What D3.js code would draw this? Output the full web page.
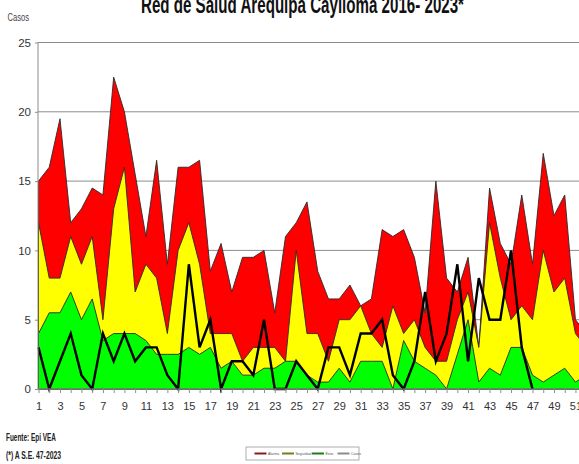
<!DOCTYPE html>
<html><head><meta charset="utf-8">
<script src="https://cdn.jsdelivr.net/npm/d3@7"></script>
<style>body{margin:0;background:#fff}svg{display:block}</style>
</head><body><svg id="c" width="579" height="464"></svg>
<script>
const weeks = [1,2,3,4,5,6,7,8,9,10,11,12,13,14,15,16,17,18,19,20,21,22,23,24,25,26,27,28,29,30,31,32,33,34,35,36,37,38,39,40,41,42,43,44,45,46,47,48,49,50,51,52];
// Upper band (red) – alarma
const alarma = [15,16,19.5,12,13,14.5,14,22.5,20,15.5,11,16.5,9,16,16,16.5,8.5,10.5,7,9.5,9.5,10,5.5,11,12,13.5,8.5,6.5,6.5,7.5,6,6.5,11.5,11,11.5,9.5,5.5,15,8,7,9.5,3,14.5,10.5,9,14,9,17,12.5,14,5,4];
// Middle band (yellow) – seguridad
const seguridad = [12,8,8,11,9,11,5,13,16,7,9,8,4,10,12,9,4,4,4,2,3,3,3,2,10,4,4,2,5,5,6,4,3,6,4,5,3,2,2,5,7,3,12,8,5,6,5,10,7,8,4,3];
// Lower band (green) – éxito
const exito = [4,5.5,5.5,7,5,6.5,3.5,4,4,4,3.5,2.5,2.5,2.5,3,2.5,3,1.5,2,1,1,1.5,1.5,2,2,1,0.5,0.5,1.5,0.5,2,2,2,0,3.5,2,1.5,1,0,2.5,5,0.5,1.5,1,3,3,1,0.5,1,1.5,0.5,1];
// Cases 2023 up to S.E. 47
const casos = [3,0,2,4,1,0,4,2,4,2,3,3,1,0,9,3,5,0,2,2,1,5,0,0,2,1,0,3,3,1,4,4,5,1,0,2,7,2,4,9,2,8,5,5,10,3,0];
const yTicks = [0,5,10,15,20,25];
const xTickLabels = [1,3,5,7,9,11,13,15,17,19,21,23,25,27,29,31,33,35,37,39,41,43,45,47,49,51];
const legendLabels = ["Alarma","Seguridad","Éxito","Casos"];
const legendColors = ["#8b1a1a","#7a7a1e","#1e7a1e","#8c8c8c"];
const titleText = "Red  de Salud Arequipa Caylloma 2016- 2023*";

const svg = d3.select("#c");
const narrow = "'Liberation Sans Narrow','Arial Narrow',Arial,sans-serif";
const x = d3.scaleLinear().domain([1,52]).range([38.5,586.2]);
const y = d3.scaleLinear().domain([0,25]).range([389,42.5]);

// grid
svg.append("g").selectAll("line").data(yTicks.filter(d=>d>0)).join("line")
  .attr("x1",38).attr("x2",600).attr("y1",d=>y(d)).attr("y2",d=>y(d))
  .attr("stroke","#8c8c8c").attr("stroke-width",1);

const area = vals => d3.area().x((d,i)=>x(weeks[i])).y0(y(0)).y1(d=>y(d))(vals);
[[alarma,"#ff0000"],[seguridad,"#ffff00"],[exito,"#00ff00"]].forEach(([v,c])=>{
  svg.append("path").attr("d",area(v)).attr("fill",c)
    .attr("stroke","#2a2a2a").attr("stroke-width",0.9).attr("stroke-linejoin","round");
});

svg.append("path").datum(casos)
  .attr("d",d3.line().x((d,i)=>x(weeks[i])).y(d=>y(d)))
  .attr("fill","none").attr("stroke","#000").attr("stroke-width",2.4).attr("stroke-linejoin","miter");

// axes
const xa = svg.append("g").attr("transform","translate(0,389)")
  .call(d3.axisBottom(x).tickValues(weeks).tickSize(4).tickPadding(9)
    .tickFormat(d=>xTickLabels.includes(d)?String(d):""));
xa.select(".domain").attr("stroke","#8c8c8c").attr("d","M38,0H600");
xa.selectAll(".tick line").attr("stroke","#8c8c8c");
xa.selectAll("text").attr("font-family",narrow).attr("font-size",11).attr("fill","#333");

const ya = svg.append("g").attr("transform","translate(38,0)")
  .call(d3.axisLeft(y).tickValues(yTicks).tickSize(3).tickPadding(4));
ya.select(".domain").attr("stroke","#8c8c8c").attr("d","M0,389V42.5");
ya.selectAll(".tick line").attr("stroke","#8c8c8c");
ya.selectAll("text").attr("font-family",narrow).attr("font-size",11.5).attr("fill","#333");

// title & labels (title is partly cut at the top edge, as in the source image)
svg.append("text").attr("x",141).attr("y",12.5).attr("font-family","Arial,'Liberation Sans',sans-serif")
  .attr("font-weight","bold").attr("font-size",23).attr("fill","#111")
  .attr("textLength",323).attr("lengthAdjust","spacingAndGlyphs").text(titleText);
svg.append("text").attr("x",7.5).attr("y",21).attr("font-family","Arial,sans-serif")
  .attr("font-size",10).attr("fill","#444").attr("textLength",21.5).attr("lengthAdjust","spacingAndGlyphs").text("Casos");
svg.append("text").attr("x",6).attr("y",441).attr("font-family",narrow).attr("font-weight","bold")
  .attr("font-size",10).attr("fill","#222").attr("textLength",50).attr("lengthAdjust","spacingAndGlyphs").text("Fuente: Epi VEA");
svg.append("text").attr("x",6).attr("y",459).attr("font-family",narrow).attr("font-weight","bold")
  .attr("font-size",10).attr("fill","#222").attr("textLength",55).attr("lengthAdjust","spacingAndGlyphs").text("(*) A S.E. 47-2023");

// legend
const lg = svg.append("g");
lg.append("rect").attr("x",246).attr("y",447).attr("width",113).attr("height",13)
  .attr("fill","#fff").attr("stroke","#999").attr("stroke-width",0.8);
const lx = [254.5,282,312,337.5];
legendLabels.forEach((t,i)=>{
  lg.append("line").attr("x1",lx[i]).attr("x2",lx[i]+12).attr("y1",453.5).attr("y2",453.5)
    .attr("stroke",legendColors[i]).attr("stroke-width",2);
  lg.append("text").attr("x",lx[i]+13.5).attr("y",455).attr("font-family",narrow)
    .attr("font-size",3.5).attr("fill","#555").text(t);
});
</script></body></html>
